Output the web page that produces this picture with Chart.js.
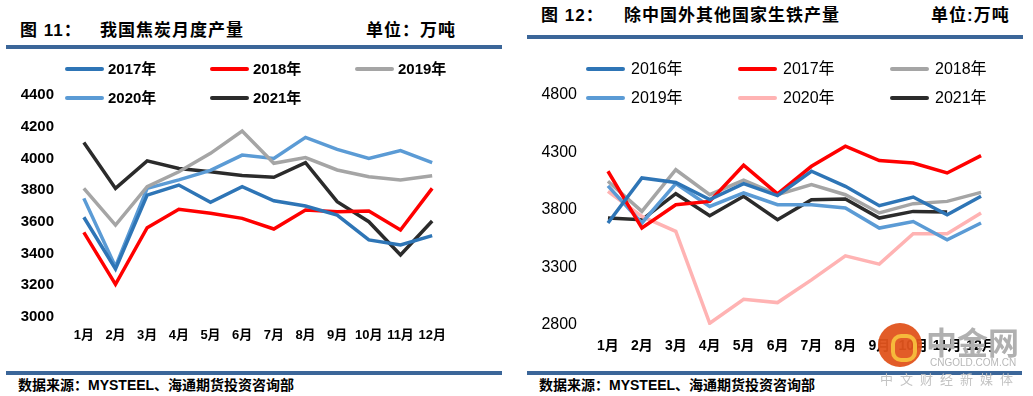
<!DOCTYPE html>
<html>
<head>
<meta charset="utf-8">
<script src="https://cdn.jsdelivr.net/npm/chart.js@4"></script>
<style>
body { margin:0; width:1033px; height:396px; background:#fff; position:relative; overflow:hidden;
  font-family:"Liberation Sans","Noto Sans CJK SC",sans-serif; color:#000; }
.abs { position:absolute; white-space:nowrap; }
.titulo { font-family:"Liberation Sans","Noto Sans CJK SC",sans-serif; font-weight:bold; font-size:17px; letter-spacing:1px; line-height:20px; }
.barra { position:absolute; height:4px; background:#3b6699; }
.fonte { font-weight:bold; font-size:14px; line-height:18px; }
.leg-linha { position:absolute; height:4px; width:39px; border-radius:2px; }
.leg-texto { position:absolute; font-size:15px; line-height:18px; }
canvas { position:absolute; }
</style>
</head>
<body>
<!-- cabeçalhos -->
<div class="abs titulo" style="left:20px;top:21px;">图 11：</div>
<div class="abs titulo" style="left:100px;top:21px;">我国焦炭月度产量</div>
<div class="abs titulo" style="left:366px;top:21px;">单位：万吨</div>
<div class="barra" style="left:6px;top:45px;width:496px;"></div>

<div class="abs titulo" style="left:541px;top:6px;">图 12：</div>
<div class="abs titulo" style="left:624px;top:6px;">除中国外其他国家生铁产量</div>
<div class="abs titulo" style="left:931px;top:6px;">单位:万吨</div>
<div class="barra" style="left:527px;top:35px;width:496px;"></div>

<canvas id="coque" width="510" height="300" style="left:0;top:60px;"></canvas>
<canvas id="ferro" width="517" height="300" style="left:516px;top:60px;"></canvas>

<div id="legendas"></div>

<div class="barra" style="left:6px;top:371px;width:496px;"></div>
<div class="barra" style="left:527px;top:371px;width:495px;"></div>
<div class="abs fonte" style="left:18px;top:376px;">数据来源：MYSTEEL、海通期货投资咨询部</div>
<div class="abs fonte" style="left:539px;top:376px;">数据来源：MYSTEEL、海通期货投资咨询部</div>

<!-- marca d'água -->
<div class="abs" style="left:878px;top:323px;width:44px;height:44px;border-radius:22px;background:#e0531c;opacity:0.95;"></div>
<div class="abs" style="left:891px;top:334px;width:18px;height:20px;border-radius:10px;border:4px solid #f6b93b;"></div>
<div class="abs" style="left:926px;top:324px;font-size:31px;font-weight:bold;color:#b0b0b0;font-family:'Noto Sans CJK SC';line-height:34px;">中金网</div>
<div class="abs" style="left:930px;top:357px;font-size:10px;color:#b8b8b8;line-height:12px;">CNGOLD.COM.CN</div>
<div class="abs" style="left:880px;top:371px;font-size:13px;color:#c4c4c4;letter-spacing:7px;line-height:15px;font-family:'Noto Sans CJK SC';">中文财经新媒体</div>

<script>
const meses = ['1月','2月','3月','4月','5月','6月','7月','8月','9月','10月','11月','12月'];

// 图11 焦炭月度产量（万吨）
const anosCoque = ['2017年','2018年','2019年','2020年','2021年'];
const coque2017 = [3629,3303,3769,3832,3723,3822,3733,3700,3643,3486,3454,3513];
const coque2018 = [3534,3206,3563,3679,3654,3622,3555,3675,3664,3668,3549,3811];
const coque2019 = [3811,3580,3822,3916,4032,4173,3969,4005,3927,3885,3864,3891];
const coque2020 = [3748,3317,3811,3865,3925,4021,4000,4133,4057,4000,4049,3973];
const coque2021 = [4101,3811,3985,3937,3916,3893,3881,3973,3727,3601,3391,3605];
const coresCoque = ['#2e75b6','#ff0000','#a5a5a5','#5b9bd5','#2b2b2b'];

// 图12 除中国外其他国家生铁产量（万吨）
const anosFerro = ['2016年','2017年','2018年','2019年','2020年','2021年'];
const ferro2016 = [3687,4079,4040,3890,4030,3925,4137,4006,3837,3913,3759,3919];
const ferro2017 = [4137,3643,3846,3875,4189,3940,4180,4355,4230,4209,4122,4273];
const ferro2018 = [4050,3788,4150,3933,4060,3933,4021,3933,3774,3855,3875,3953];
const ferro2019 = [4010,3687,4030,3831,3948,3846,3846,3817,3643,3700,3541,3687];
const ferro2020 = [3962,3744,3614,2815,3024,2995,3192,3402,3329,3593,3593,3774];
const ferro2021 = [3730,3715,3942,3750,3919,3715,3890,3896,3730,3788,3782,null];
const coresFerro = ['#2e75b6','#ff0000','#a5a5a5','#5b9bd5','#ffb3b3','#2b2b2b'];

function criarGrafico(id, nomes, series, cores, cfg) {
    const ctx = document.getElementById(id).getContext('2d');
    return new Chart(ctx, {
        type: 'line',
        data: {
            labels: meses,
            datasets: series.map((s, i) => ({
                label: nomes[i],
                data: s,
                borderColor: cores[i],
                backgroundColor: cores[i],
                borderWidth: 3.5,
                pointRadius: 0,
                tension: 0,
                fill: false
            }))
        },
        options: {
            responsive: false,
            animation: false,
            layout: { padding: cfg.padding },
            plugins: { legend: { display: false }, tooltip: { enabled: false } },
            scales: {
                x: {
                    offset: true,
                    grid: { display: false, drawTicks: false },
                    border: { display: false },
                    ticks: { color: '#000', padding: cfg.xPad, maxRotation: 0, autoSkip: false,
                        font: { family: '"Liberation Sans","Noto Sans CJK SC"', size: cfg.xSize, weight: 'bold' } },
                    afterFit: s => { s.height = 30; }
                },
                y: {
                    min: cfg.min, max: cfg.max,
                    grid: { display: false, drawTicks: false },
                    border: { display: false },
                    ticks: { stepSize: cfg.step, color: '#000', padding: cfg.yPad,
                        callback: v => String(v),
                        font: { family: '"Liberation Sans"', size: cfg.ySize, weight: cfg.yWeight } },
                    afterFit: s => { s.width = cfg.yWidth; }
                }
            }
        }
    });
}

criarGrafico('coque', anosCoque, [coque2017, coque2018, coque2019, coque2020, coque2021], coresCoque, {
    padding: { left: 0, right: 62, top: 35, bottom: 13 },
    min: 3000, max: 4400, step: 200, yWidth: 68, yPad: 14, ySize: 15, yWeight: 'bold', xPad: 11, xSize: 13
});
criarGrafico('ferro', anosFerro, [ferro2016, ferro2017, ferro2018, ferro2019, ferro2020, ferro2021], coresFerro, {
    padding: { left: 0, right: 35, top: 35, bottom: 5 },
    min: 2800, max: 4800, step: 500, yWidth: 75, yPad: 14, ySize: 16, yWeight: 'normal', xPad: 13, xSize: 14
});

// legendas em HTML (ficam sobre a área do gráfico, como no original)
function criarLegenda(nomes, cores, colunas, linhas, deslocTexto, negrito) {
    const box = document.getElementById('legendas');
    nomes.forEach((nome, i) => {
        const x = colunas[i % 3], y = linhas[Math.floor(i / 3)];
        const l = document.createElement('div');
        l.className = 'leg-linha';
        l.style.left = x + 'px'; l.style.top = (y - 2) + 'px'; l.style.background = cores[i];
        const t = document.createElement('div');
        t.className = 'leg-texto';
        t.style.left = (x + deslocTexto) + 'px'; t.style.top = (y - 9) + 'px';
        t.style.fontWeight = negrito ? 'bold' : 'normal';
        t.style.fontSize = negrito ? '15px' : '16px';
        t.textContent = nome;
        box.appendChild(l); box.appendChild(t);
    });
}
criarLegenda(anosCoque, coresCoque, [65, 210, 355], [69, 98], 43, true);
criarLegenda(anosFerro, coresFerro, [586, 738, 890], [69, 98], 45, false);
</script>
</body>
</html>
